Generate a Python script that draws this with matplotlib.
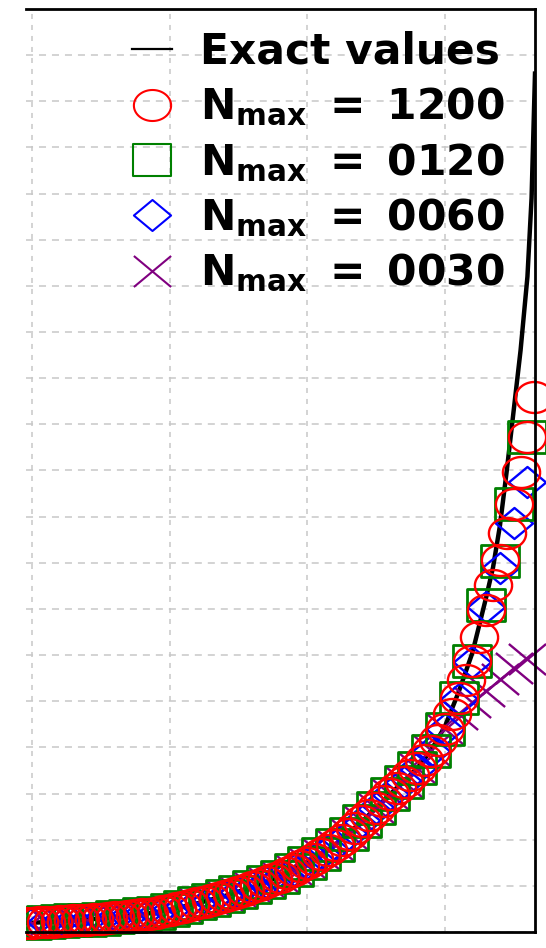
import matplotlib
matplotlib.use("Agg")
import matplotlib.pyplot as plt
import numpy as np
from matplotlib.path import Path
from matplotlib.patches import Rectangle

plt.rcParams['mathtext.fontset'] = 'dejavusans'

# exact curve, read at irregular abscissae (denser where it blows up)
x_exact = [-0.05, 0.0, 0.2, 0.4, 0.6, 0.8, 1.0, 1.2, 1.4, 1.6, 1.8, 2.0, 2.2,
           2.4, 2.6, 2.8, 2.9, 3.0, 3.1, 3.2, 3.3, 3.35, 3.4, 3.45, 3.5, 3.55,
           3.6, 3.63, 3.655]
y_exact = [0.20, 0.20, 0.23, 0.27, 0.32, 0.38, 0.48, 0.62, 0.78, 0.97, 1.20,
           1.50, 1.88, 2.40, 2.98, 3.55, 3.94, 4.45, 5.20, 6.05, 7.25, 7.90,
           8.80, 10.0, 11.3, 12.6, 14.2, 15.9, 18.6]

# N_max = 1200, sampled every 0.05
x_1200 = np.round(np.arange(-0.05, 3.651, 0.05), 2)
y_1200 = [0.20, 0.20, 0.21, 0.21, 0.22, 0.23, 0.24, 0.25, 0.26, 0.27,
          0.28, 0.29, 0.30, 0.32, 0.33, 0.35, 0.36, 0.38, 0.40, 0.42,
          0.45, 0.48, 0.51, 0.54, 0.58, 0.62, 0.66, 0.70, 0.74, 0.78,
          0.82, 0.87, 0.92, 0.97, 1.02, 1.08, 1.14, 1.20, 1.27, 1.34,
          1.42, 1.50, 1.59, 1.68, 1.78, 1.88, 2.00, 2.13, 2.26, 2.40,
          2.54, 2.68, 2.83, 2.98, 3.12, 3.26, 3.40, 3.55, 3.73, 3.93,
          4.15, 4.40, 4.72, 5.08, 5.45, 5.88, 6.40, 6.98, 7.52, 8.06,
          8.64, 9.27, 9.97, 10.73, 11.59]

# the coarser runs, sampled every 0.1
x_coarse = np.round(np.arange(0.0, 3.601, 0.1), 1)
y_0120 = [0.20, 0.21, 0.23, 0.25, 0.27, 0.29, 0.32, 0.35, 0.38, 0.42,
          0.48, 0.54, 0.62, 0.70, 0.78, 0.87, 0.97, 1.08, 1.20, 1.34,
          1.50, 1.68, 1.88, 2.13, 2.40, 2.68, 2.98, 3.26, 3.55, 3.93,
          4.40, 5.08, 5.88, 7.09, 8.04, 9.27, 10.73]
y_0060 = [0.20, 0.21, 0.23, 0.25, 0.27, 0.29, 0.32, 0.35, 0.38, 0.42,
          0.48, 0.54, 0.62, 0.70, 0.78, 0.87, 0.97, 1.08, 1.20, 1.34,
          1.50, 1.68, 1.88, 2.13, 2.40, 2.68, 2.98, 3.26, 3.55, 3.93,
          4.40, 5.05, 5.85, 7.04, 7.89, 8.86, 9.75]
y_0030 = [0.20, 0.21, 0.23, 0.25, 0.27, 0.29, 0.32, 0.35, 0.38, 0.42,
          0.48, 0.54, 0.62, 0.70, 0.78, 0.87, 0.97, 1.08, 1.20, 1.34,
          1.50, 1.68, 1.88, 2.13, 2.40, 2.68, 2.98, 3.26, 3.55, 3.95,
          4.40, 4.72, 4.98, 5.22, 5.48, 5.72, 5.92]

nmax_labels = ['1200', '0120', '0060', '0030']


def stretched(verts, codes=None):
    # markers are a little wider than tall
    v = np.array(verts, dtype=float)
    v[:, 0] *= 1.2
    return Path(v, codes)


t = np.linspace(0, 2 * np.pi, 73)
m_circle = stretched(np.column_stack([np.cos(t), np.sin(t)]))
m_square = stretched([(-1, -1), (1, -1), (1, 1), (-1, 1), (-1, -1)],
                     [Path.MOVETO, Path.LINETO, Path.LINETO, Path.LINETO, Path.CLOSEPOLY])
m_diamond = stretched([(0, -1), (1, 0), (0, 1), (-1, 0), (0, -1)],
                      [Path.MOVETO, Path.LINETO, Path.LINETO, Path.LINETO, Path.CLOSEPOLY])
m_cross = stretched([(-1, -1), (1, 1), (-1, 1), (1, -1)],
                    [Path.MOVETO, Path.LINETO, Path.MOVETO, Path.LINETO])

fig = plt.figure(figsize=(5.46, 9.48), dpi=100)
ax = fig.add_axes([26 / 546, 1 - 932 / 948, 509 / 546, 923 / 948])

ax.set_xlim(-0.044, 3.655)
ax.set_ylim(0, 20)
ax.set_xticks([0, 1, 2, 3])
ax.set_yticks(range(0, 21))
ax.tick_params(length=0, labelbottom=False, labelleft=False)
ax.xaxis.grid(True, ls=(0, (3.3, 3.9)), lw=1.1, color='#c8c8c8')
ax.yaxis.grid(True, ls=(0, (4.6, 3.9)), lw=1.1, color='#c8c8c8')
ax.set_axisbelow(True)
ax.spines['left'].set_visible(False)
for s in ('top', 'bottom', 'right'):
    ax.spines[s].set_linewidth(2.0)

ax.plot(x_exact, y_exact, color='black', lw=3.2, zorder=2, label='Exact values')

series = [
    (x_1200, y_1200, m_circle, 'red', 1.7),
    (x_coarse, y_0120, m_square, 'green', 2.0),
    (x_coarse, y_0060, m_diamond, 'blue', 1.7),
    (x_coarse, y_0030, m_cross, 'purple', 1.7),
]
# markers may spill over the right and bottom edges, not the left one
spill = Rectangle((0, -0.1), 1.3, 1.3, transform=ax.transAxes)
for i, (xs, ys, mk, col, mew) in enumerate(series):
    ln, = ax.plot(xs, ys, ls='none', marker=mk, ms=26.8, mfc='none', mec=col,
                  mew=mew, zorder=2.5 - 0.1 * i,
                  label=r'$\mathbf{N_{max}}\ \mathbf{=}\ \mathbf{%s}$' % nmax_labels[i])
    ln.set_clip_path(spill)

leg = ax.legend(loc='upper left', bbox_to_anchor=(132 / 546, 1 - 31 / 948),
                bbox_transform=fig.transFigure, frameon=False,
                prop={'weight': 'bold', 'size': 30.5}, numpoints=1,
                handlelength=0.94, handletextpad=0.66, labelspacing=0.31,
                borderpad=0, borderaxespad=0)
# thinner strokes in the key than on the plot
leg_lines = leg.get_lines()
leg_lines[0].set_linewidth(1.6)
for ln in leg_lines[1:]:
    ln.set_markeredgewidth(1.5)

fig.savefig('out.png', dpi=100)
